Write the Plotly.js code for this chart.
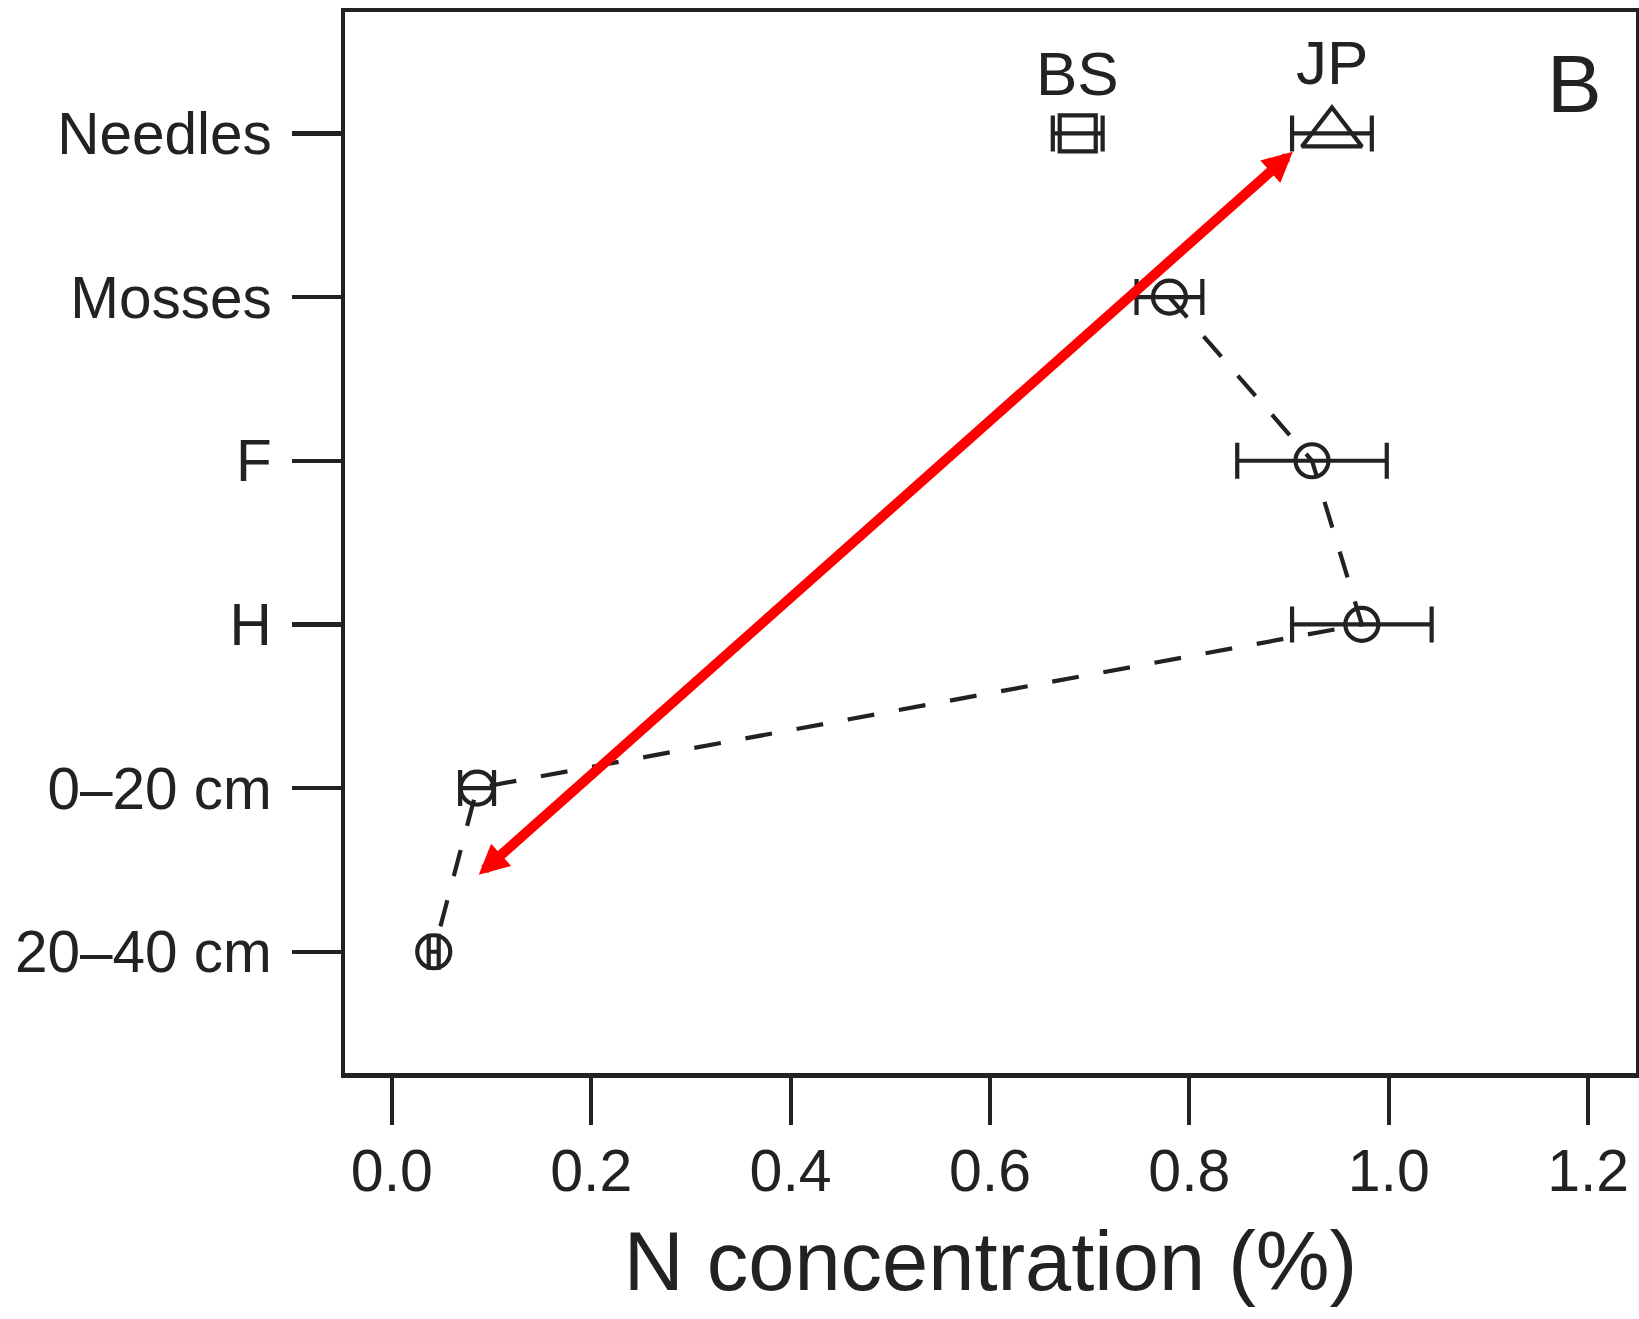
<!DOCTYPE html>
<html><head><meta charset="utf-8">
<script src="https://cdn.plot.ly/plotly-3.0.1.min.js"></script>
<style>html,body{margin:0;padding:0;background:#fff;} #chart{width:1639px;height:1319px;}</style>
</head><body><div id="chart"></div>
<script>
// ---- data ----
const categories = ['20–40 cm', '0–20 cm', 'H', 'F', 'Mosses', 'Needles'];
const profileLayers = ['Mosses', 'F', 'H', '0–20 cm', '20–40 cm'];
const profileN = [0.780, 0.923, 0.973, 0.0855, 0.042];
const profileSE = [0.033, 0.075, 0.070, 0.017, 0.005];
const standLabels = ['BS', 'JP'];
const needleN = [0.688, 0.943];
const needleSE = [0.025, 0.040];
const xTickVals = [0, 0.2, 0.4, 0.6, 0.8, 1.0, 1.2];
const xTickText = ['0.0', '0.2', '0.4', '0.6', '0.8', '1.0', '1.2'];
const arrowFrom = [0.0856, 0.462];   // [N %, layer index]
const arrowTo = [0.9037, 4.888];
const panelLabel = 'B';
const xTitle = 'N concentration (%)';

// ---- styles ----
const INK = '#222222';
const FONT = 'Liberation Sans, Arial, Helvetica, sans-serif';
const SW = 4.2;
const idx = name => categories.indexOf(name);

const errStyle = (arr) => ({type: 'data', array: arr, visible: true, color: INK, thickness: SW, width: 18});

const traces = [
  {
    type: 'scatter', mode: 'lines+markers',
    x: profileN, y: profileLayers.map(idx),
    line: {color: INK, width: SW, dash: '27px,25px'},
    marker: {symbol: 'circle-open', size: 33, color: INK, line: {color: INK, width: SW}},
    error_x: errStyle(profileSE),
    hoverinfo: 'x+y'
  },
  {
    type: 'scatter', mode: 'markers',
    x: [needleN[0]], y: [idx('Needles')],
    marker: {symbol: 'square-open', size: 36, color: INK, line: {color: INK, width: SW}},
    error_x: errStyle([needleSE[0]])
  },
  {
    type: 'scatter', mode: 'markers',
    x: [needleN[1]], y: [idx('Needles')],
    marker: {symbol: 'triangle-up-open', size: 52, color: INK, line: {color: INK, width: SW}},
    error_x: errStyle([needleSE[1]])
  }
];

const labelShift = [60, 71];
const annotations = standLabels.map((t, i) => ({
  x: needleN[i], y: idx('Needles'), xref: 'x', yref: 'y', yshift: labelShift[i],
  text: t, showarrow: false, xanchor: 'center', yanchor: 'middle',
  font: {family: FONT, size: 62, color: INK}
}));
annotations.push({
  x: arrowTo[0], y: arrowTo[1], ax: arrowFrom[0], ay: arrowFrom[1],
  xref: 'x', yref: 'y', axref: 'x', ayref: 'y', text: '', showarrow: true,
  arrowhead: 2, startarrowhead: 2, arrowside: 'end+start',
  arrowsize: 0.6, startarrowsize: 0.6, arrowwidth: 10, arrowcolor: '#ff0000',
  standoff: 0, startstandoff: 0
});
annotations.push({
  xref: 'paper', yref: 'paper', x: 0.952, y: 0.9326, xanchor: 'center', yanchor: 'middle',
  text: panelLabel, showarrow: false, font: {family: FONT, size: 82, color: INK}
});

const layout = {
  width: 1639, height: 1319,
  margin: {l: 345, r: 3, t: 12, b: 246, pad: 0},
  paper_bgcolor: '#ffffff', plot_bgcolor: '#ffffff',
  font: {family: FONT, color: INK, size: 59},
  showlegend: false,
  xaxis: {
    range: [-0.047, 1.248], tickmode: 'array', tickvals: xTickVals, ticktext: xTickText,
    ticks: 'outside', ticklen: 47, tickwidth: SW, tickcolor: INK,
    showline: true, mirror: true, linewidth: 4.5, linecolor: INK,
    showgrid: false, zeroline: false, ticklabelstandoff: -4,
    tickfont: {family: FONT, size: 59, color: INK},
    title: {text: xTitle, font: {family: FONT, size: 83, color: INK}, standoff: 30}
  },
  yaxis: {
    range: [-0.741, 5.742], tickmode: 'array',
    tickvals: categories.map((c, i) => i), ticktext: categories,
    ticks: 'outside', ticklen: 49, tickwidth: SW, tickcolor: INK,
    showline: true, mirror: true, linewidth: 4.5, linecolor: INK,
    showgrid: false, zeroline: false, ticklabelstandoff: 8,
    tickfont: {family: FONT, size: 58.5, color: INK}
  },
  annotations: annotations
};

Plotly.newPlot('chart', traces, layout, {displayModeBar: false, staticPlot: true});
</script>
</body></html>
